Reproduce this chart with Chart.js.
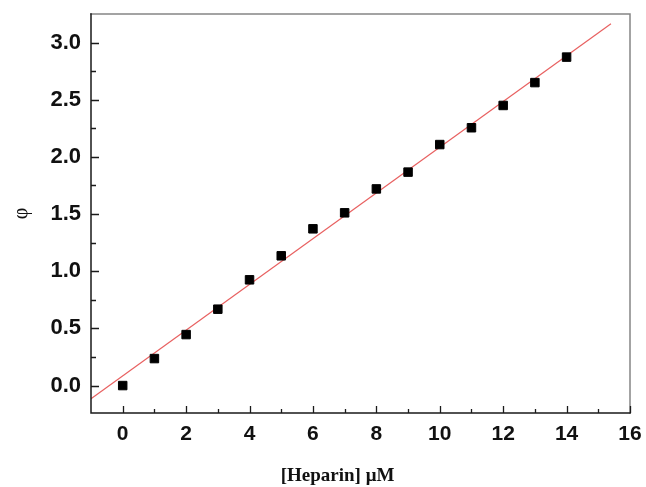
<!DOCTYPE html>
<html>
<head>
<meta charset="utf-8">
<script src="https://cdn.jsdelivr.net/npm/chart.js@4"></script>
<style>
  html, body { margin: 0; padding: 0; background: #fff; }
  #wrap { width: 646px; height: 487px; }
</style>
</head>
<body>
<div id="wrap"><canvas id="fitChart" width="646" height="487"></canvas></div>
<script>
// heparin concentration (uM) and measured phi
const heparin = [0, 1, 2, 3, 4, 5, 6, 7, 8, 9, 10, 11, 12, 13, 14];
const phi = [0.0, 0.236, 0.446, 0.668, 0.925, 1.135, 1.371, 1.511, 1.72, 1.867, 2.108, 2.255, 2.45, 2.65, 2.873];

// linear fit, drawn between its two end points
const fitX = [-1, 15.4];
const fitY = [-0.115, 3.165];

const xTicks = [0, 2, 4, 6, 8, 10, 12, 14, 16];
const xMinorTicks = [1, 3, 5, 7, 9, 11, 13, 15];
const yTicks = [0.0, 0.5, 1.0, 1.5, 2.0, 2.5, 3.0];
const yMinorTicks = [0.25, 0.75, 1.25, 1.75, 2.25, 2.75];

const xTitle = '[Heparin] \u03bcM';
const yTitle = '\u03c6';

// frame, inward ticks and axis titles
const framePlugin = {
  id: 'frame',
  afterDraw(chart) {
    const ctx = chart.ctx;
    const a = chart.chartArea;
    const xs = chart.scales.x, ys = chart.scales.y;
    ctx.save();
    ctx.lineCap = 'square';

    // top + right in grey
    ctx.strokeStyle = '#858585';
    ctx.lineWidth = 1.5;
    ctx.beginPath();
    ctx.moveTo(a.left, a.top);
    ctx.lineTo(a.right, a.top);
    ctx.lineTo(a.right, a.bottom);
    ctx.stroke();

    // left + bottom in black
    ctx.strokeStyle = '#1a1a1a';
    ctx.beginPath();
    ctx.moveTo(a.left, a.top);
    ctx.lineTo(a.left, a.bottom);
    ctx.lineTo(a.right, a.bottom);
    ctx.stroke();

    ctx.lineWidth = 1.3;
    ctx.lineCap = 'butt';
    ctx.beginPath();
    xTicks.forEach(v => {
      const px = Math.round(xs.getPixelForValue(v)) + 0.5;
      ctx.moveTo(px, a.bottom); ctx.lineTo(px, a.bottom - 7);
    });
    xMinorTicks.forEach(v => {
      const px = Math.round(xs.getPixelForValue(v)) + 0.5;
      ctx.moveTo(px, a.bottom); ctx.lineTo(px, a.bottom - 4);
    });
    yTicks.forEach(v => {
      const py = Math.round(ys.getPixelForValue(v)) + 0.5;
      ctx.moveTo(a.left, py); ctx.lineTo(a.left + 8, py);
    });
    yMinorTicks.forEach(v => {
      const py = Math.round(ys.getPixelForValue(v)) + 0.5;
      ctx.moveTo(a.left, py); ctx.lineTo(a.left + 5, py);
    });
    ctx.stroke();

    // axis titles
    ctx.fillStyle = '#111';
    ctx.font = 'bold 19px "Liberation Serif", "Times New Roman", serif';
    ctx.textAlign = 'center';
    ctx.textBaseline = 'alphabetic';
    ctx.fillText(xTitle, (a.left + a.right) / 2 - 23, 481);

    ctx.translate(22, (a.top + a.bottom) / 2);
    ctx.rotate(-Math.PI / 2);
    ctx.font = '20px "Liberation Serif", "Times New Roman", serif';
    ctx.textBaseline = 'middle';
    ctx.fillText(yTitle, 0, 0);
    ctx.restore();
  }
};

// keep the plot box fixed, labels may hang past it
function noScalePadding(s) {
  s.paddingLeft = 0; s.paddingRight = 0;
  s.paddingTop = 0; s.paddingBottom = 0;
}

const ctx = document.getElementById('fitChart').getContext('2d');
const chart = new Chart(ctx, {
  type: 'scatter',
  data: {
    datasets: [{
      label: 'fit',
      type: 'line',
      data: fitX.map((x, i) => ({ x: x, y: fitY[i] })),
      borderColor: 'rgb(232, 96, 96)',
      borderWidth: 1.2,
      pointRadius: 0,
      fill: false,
      order: 2
    }, {
      label: 'phi',
      data: heparin.map((x, i) => ({ x: x, y: phi[i] })),
      pointStyle: 'rect',
      pointRadius: 6,
      backgroundColor: '#000',
      borderColor: '#000',
      borderWidth: 1,
      order: 1
    }]
  },
  options: {
    responsive: false,
    animation: false,
    layout: { padding: { left: 0, top: 14, right: 16, bottom: 0 } },
    plugins: {
      legend: { display: false },
      tooltip: { enabled: false }
    },
    scales: {
      x: {
        type: 'linear',
        min: -1,
        max: 16,
        grid: { display: false, drawTicks: false },
        border: { display: false },
        afterBuildTicks: s => { s.ticks = xTicks.map(v => ({ value: v })); },
        afterFit: s => { s.height = 74; noScalePadding(s); },
        ticks: {
          padding: 9,
          color: '#111',
          font: { family: '"Liberation Sans", Arial, sans-serif', size: 21, weight: 'bold' },
          callback: v => String(v)
        }
      },
      y: {
        type: 'linear',
        min: -0.24,
        max: 3.25,
        grid: { display: false, drawTicks: false },
        border: { display: false },
        afterBuildTicks: s => { s.ticks = yTicks.map(v => ({ value: v })); },
        afterFit: s => { s.width = 91; noScalePadding(s); },
        ticks: {
          padding: 10,
          color: '#111',
          font: { family: '"Liberation Sans", Arial, sans-serif', size: 22, weight: 'bold' },
          callback: v => Number(v).toFixed(1)
        }
      }
    }
  },
  plugins: [framePlugin]
});
</script>
</body>
</html>
